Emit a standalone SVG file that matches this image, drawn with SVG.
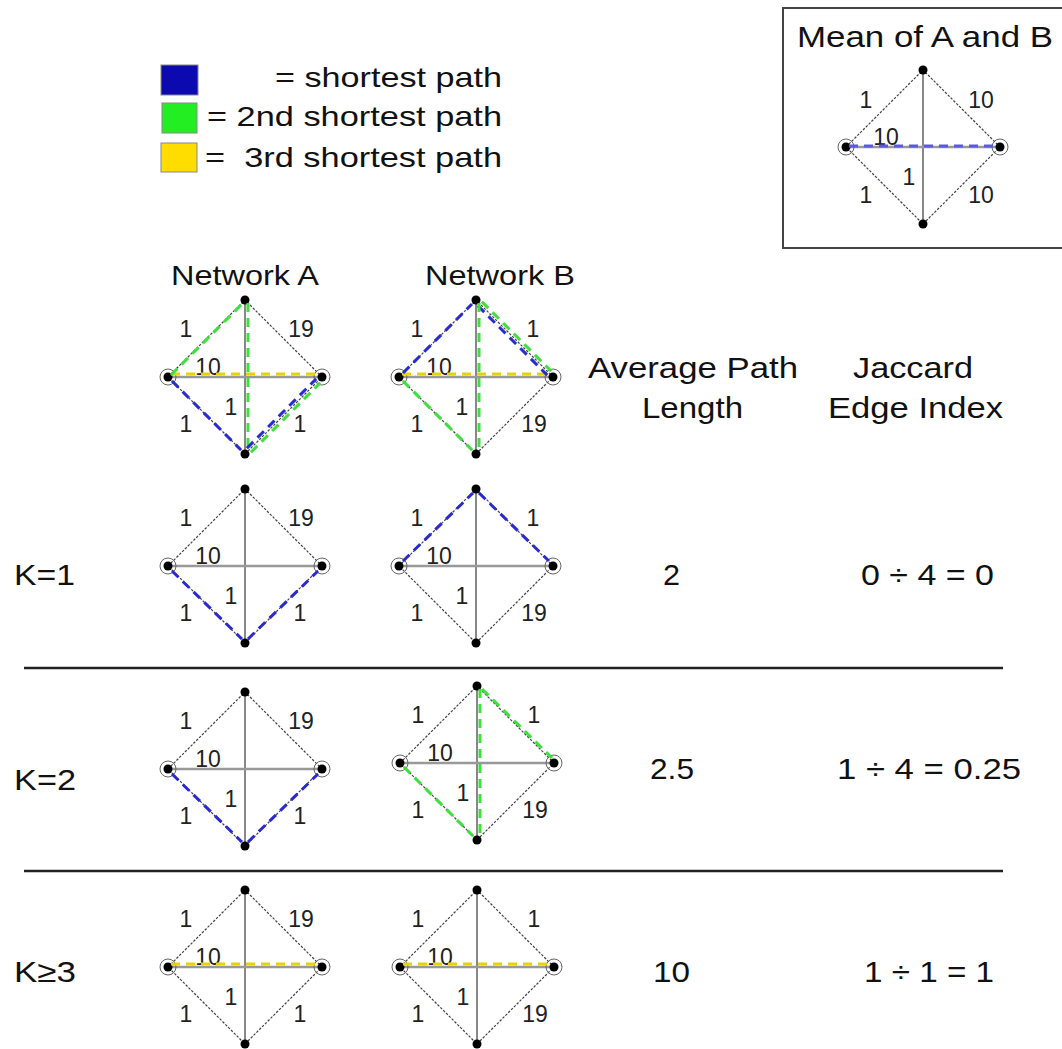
<svg xmlns="http://www.w3.org/2000/svg" xmlns:xlink="http://www.w3.org/1999/xlink" width="1062" height="1049" viewBox="0 0 1062 1049">
<style>
.e{fill:none;stroke:#444;stroke-width:1.2;stroke-dasharray:2.5 1.5}
.v{stroke:#888;stroke-width:2}
.h{stroke:#999;stroke-width:2.5}
.ring{fill:none;stroke:#666;stroke-width:1}
.nd{fill:#000}
.lb{font-family:"Liberation Sans",Arial,sans-serif;font-size:23px;fill:#222;text-anchor:middle}
.t{font-family:"Liberation Sans",Arial,sans-serif;font-size:28px;fill:#111}
.big{font-size:30px}
.p{fill:none;stroke-width:3;stroke-dasharray:9 6}
.blue{stroke:#2a2ad0}
.green{stroke:#3ee03e}
.yellow{stroke:#e4d400}
.sw{stroke:#888;stroke-width:1}
.div{stroke:#222;stroke-width:2.5}
</style>
<defs>
<g id="dia">
<path class="e" d="M-77,0 L0,-77 L77,0 L0,77 Z"/>
<line class="v" x1="0" y1="-77" x2="0" y2="77"/>
<line class="h" x1="-77" y1="0" x2="77" y2="0"/>
<circle class="ring" cx="-77" cy="0" r="8"/>
<circle class="ring" cx="77" cy="0" r="8"/>
<circle class="nd" cx="0" cy="-77" r="4.5"/>
<circle class="nd" cx="-77" cy="0" r="4.5"/>
<circle class="nd" cx="77" cy="0" r="4.5"/>
<circle class="nd" cx="0" cy="77" r="4.5"/>
</g>
<g id="lblA">
<text class="lb" x="-59" y="-40">1</text>
<text class="lb" x="56" y="-40">19</text>
<text class="lb" x="-37" y="-2">10</text>
<text class="lb" x="-14" y="38">1</text>
<text class="lb" x="-59" y="55">1</text>
<text class="lb" x="55" y="55">1</text>
</g>
<g id="lblB">
<text class="lb" x="-59" y="-40">1</text>
<text class="lb" x="57" y="-40">1</text>
<text class="lb" x="-37" y="-2">10</text>
<text class="lb" x="-14" y="38">1</text>
<text class="lb" x="-59" y="55">1</text>
<text class="lb" x="58" y="55">19</text>
</g>
<g id="lblM">
<text class="lb" x="-57" y="-39">1</text>
<text class="lb" x="58" y="-39">10</text>
<text class="lb" x="-37" y="-2">10</text>
<text class="lb" x="-14" y="38">1</text>
<text class="lb" x="-57" y="56">1</text>
<text class="lb" x="58" y="56">10</text>
</g>
</defs>
<rect width="1062" height="1049" fill="#fff"/>

<g id="legend">
<rect x="161" y="65" width="37" height="30" fill="#0a0ab0" class="sw"/>
<rect x="162" y="103" width="35" height="30" fill="#22ee22" class="sw"/>
<rect x="161" y="143" width="36" height="29" fill="#ffdd00" class="sw"/>
<text class="t" x="275" y="87" textLength="227" lengthAdjust="spacingAndGlyphs">= shortest path</text>
<text class="t" x="207" y="126" textLength="295" lengthAdjust="spacingAndGlyphs">= 2nd shortest path</text>
<text class="t" x="205" y="167" textLength="297" lengthAdjust="spacingAndGlyphs" xml:space="preserve">=  3rd shortest path</text>
</g>

<g id="mean-box">
<rect x="783" y="8" width="290" height="240" fill="none" stroke="#444" stroke-width="2"/>
<text class="t big" x="797" y="47" textLength="256" lengthAdjust="spacingAndGlyphs">Mean of A and B</text>
<g id="net-mean" transform="translate(923,147)"><use href="#dia"/><use href="#lblM"/></g>
</g>

<g id="headers">
<text class="t" x="171" y="285" textLength="148" lengthAdjust="spacingAndGlyphs">Network A</text>
<text class="t" x="425" y="285" textLength="150" lengthAdjust="spacingAndGlyphs">Network B</text>
<text class="t big" x="588" y="378" textLength="210" lengthAdjust="spacingAndGlyphs">Average Path</text>
<text class="t big" x="642" y="418" textLength="101" lengthAdjust="spacingAndGlyphs">Length</text>
<text class="t big" x="853" y="378" textLength="120" lengthAdjust="spacingAndGlyphs">Jaccard</text>
<text class="t big" x="828" y="418" textLength="175" lengthAdjust="spacingAndGlyphs">Edge Index</text>
</g>

<g id="net-A-top" transform="translate(245,377)"><use href="#dia"/><use href="#lblA"/></g>
<g id="net-B-top" transform="translate(476,377)"><use href="#dia"/><use href="#lblB"/></g>
<g id="net-A-k1" transform="translate(245,566)"><use href="#dia"/><use href="#lblA"/></g>
<g id="net-B-k1" transform="translate(476,566)"><use href="#dia"/><use href="#lblB"/></g>
<g id="net-A-k2" transform="translate(245,769)"><use href="#dia"/><use href="#lblA"/></g>
<g id="net-B-k2" transform="translate(477,763)"><use href="#dia"/><use href="#lblB"/></g>
<g id="net-A-k3" transform="translate(245,967)"><use href="#dia"/><use href="#lblA"/></g>
<g id="net-B-k3" transform="translate(477,967)"><use href="#dia"/><use href="#lblB"/></g>

<g id="connectors">
<g transform="translate(923,147)"><path class="p" stroke="#5a5ae0" stroke-width="2" d="M-74,-1 L74,-1"/></g>
<g transform="translate(245,377)">
<path class="p yellow" d="M-74,-3 L74,-3"/>
<path class="p green" d="M-74,-2 L-2,-74"/>
<path class="p green" d="M3,-74 L3,74"/>
<path class="p green" d="M5.9,75.2 L75.2,5.9"/>
<path class="p blue" d="M1.9,71.2 L71.2,1.9"/>
<path class="p blue" d="M-73,4 L-4,73"/>
</g>
<g transform="translate(476,377)">
<path class="p yellow" d="M-74,-3 L74,-3"/>
<path class="p blue" d="M-73,-4 L-4,-73"/>
<path class="p blue" d="M1.9,-71.2 L71.2,-1.9"/>
<path class="p green" d="M5.9,-75.2 L75.2,-5.9"/>
<path class="p green" d="M-73,4 L-4,73"/>
<path class="p green" d="M3,-74 L3,74"/>
</g>
<g transform="translate(245,566)">
<path class="p blue" d="M-73,5 L-3,73"/>
<path class="p blue" d="M3,73 L73,5"/>
</g>
<g transform="translate(476,566)">
<path class="p blue" d="M-73,-5 L-3,-73"/>
<path class="p blue" d="M3,-73 L73,-5"/>
</g>
<g transform="translate(245,769)">
<path class="p blue" d="M-73,5 L-3,73"/>
<path class="p blue" d="M3,73 L73,5"/>
</g>
<g transform="translate(477,763)">
<path class="p green" d="M-73,4 L-4,73"/>
<path class="p green" d="M3,-74 L3,74"/>
<path class="p green" d="M5,-74 L75,-5"/>
</g>
<g transform="translate(245,967)"><path class="p yellow" d="M-74,-3 L74,-3"/></g>
<g transform="translate(477,967)"><path class="p yellow" d="M-74,-3 L74,-3"/></g>
</g>

<g id="rows">
<line class="div" x1="24" y1="668" x2="1003" y2="668"/>
<line class="div" x1="24" y1="871" x2="1003" y2="871"/>
<text class="t big" x="14" y="585" textLength="61" lengthAdjust="spacingAndGlyphs">K=1</text>
<text class="t big" x="663" y="585" textLength="17" lengthAdjust="spacingAndGlyphs">2</text>
<text class="t big" x="861" y="585" textLength="133" lengthAdjust="spacingAndGlyphs">0 ÷ 4 = 0</text>
<text class="t big" x="14" y="790" textLength="62" lengthAdjust="spacingAndGlyphs">K=2</text>
<text class="t big" x="650" y="779" textLength="44" lengthAdjust="spacingAndGlyphs">2.5</text>
<text class="t big" x="837" y="779" textLength="184" lengthAdjust="spacingAndGlyphs">1 ÷ 4 = 0.25</text>
<text class="t big" x="14" y="982" textLength="62" lengthAdjust="spacingAndGlyphs">K≥3</text>
<text class="t big" x="653" y="982" textLength="37" lengthAdjust="spacingAndGlyphs">10</text>
<text class="t big" x="864" y="982" textLength="130" lengthAdjust="spacingAndGlyphs">1 ÷ 1 = 1</text>
</g>
</svg>
